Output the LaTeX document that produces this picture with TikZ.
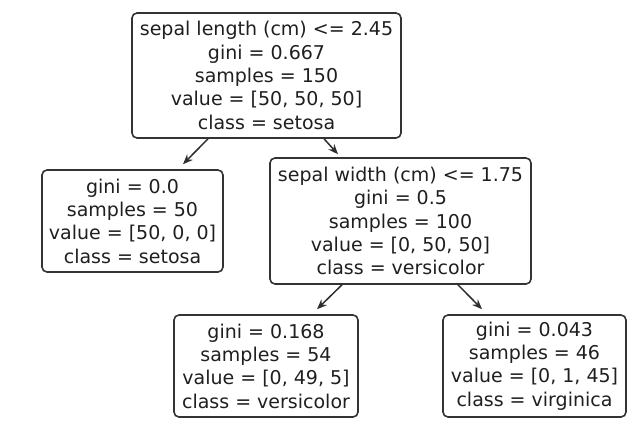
\documentclass[tikz,border=0pt]{standalone}
\usepackage{fontspec}
\setmainfont{DejaVu Sans}
\usetikzlibrary{arrows.meta,calc}
\begin{document}
\begin{tikzpicture}[x=1pt,y=-1pt,
  treenode/.style={draw=black!80,line width=1.6pt,rounded corners=5pt,align=center,
    inner sep=0pt,font=\fontsize{19}{23.3}\selectfont,text=black!88},
  edge/.style={draw=black!82,line width=1.5pt,-{Stealth[length=10pt,width=8pt]}}]
\useasboundingbox (0,0) rectangle (643,437);
\node[treenode,minimum width=269pt,minimum height=125pt] (top) at (266.5,75.5)
  {sepal length (cm) <= 2.45\\gini = 0.667\\samples = 150\\value = [50, 50, 50]\\class = setosa};
\node[treenode,minimum width=181pt,minimum height=102pt] (left) at (132.5,221)
  {gini = 0.0\\samples = 50\\value = [50, 0, 0]\\class = setosa};
\node[treenode,minimum width=261pt,minimum height=126pt] (mid) at (400.5,221)
  {sepal width (cm) <= 1.75\\gini = 0.5\\samples = 100\\value = [0, 50, 50]\\class = versicolor};
\node[treenode,minimum width=184pt,minimum height=102pt] (bl) at (266,366)
  {gini = 0.168\\samples = 54\\value = [0, 49, 5]\\class = versicolor};
\node[treenode,minimum width=183pt,minimum height=102pt] (br) at (534.5,366)
  {gini = 0.043\\samples = 46\\value = [0, 1, 45]\\class = virginica};
\draw[edge] ([xshift=-58.5pt]top.south) -- ($(left.north)+(50.5,-5)$);
\draw[edge] ([xshift=57.5pt]top.south) -- ($(mid.north)+(-62.5,-3)$);
\draw[edge] ([xshift=-58.5pt]mid.south) -- ($(bl.north)+(51,-5)$);
\draw[edge] ([xshift=57.5pt]mid.south) -- ($(br.north)+(-52.5,-5)$);
\end{tikzpicture}
\end{document}
